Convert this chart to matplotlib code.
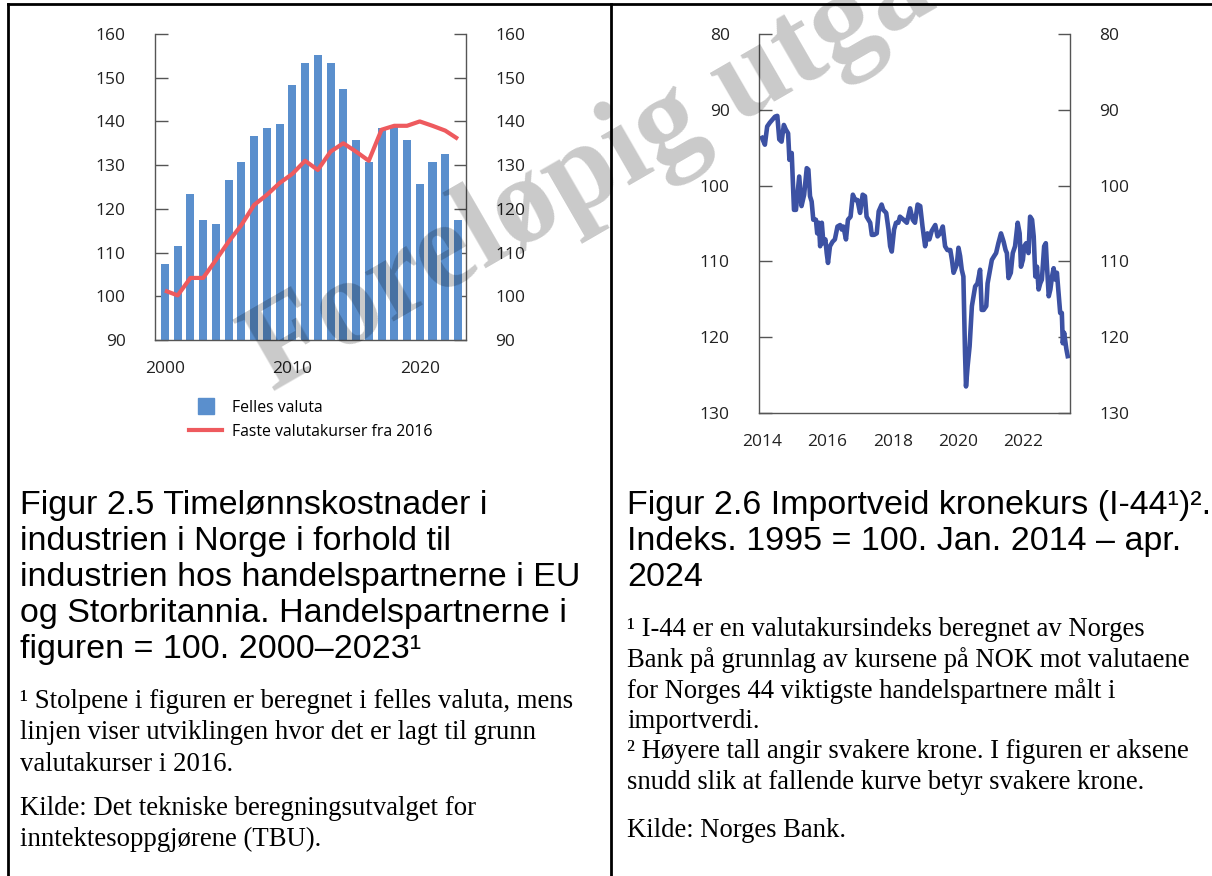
import matplotlib
matplotlib.use("Agg")
import matplotlib.pyplot as plt
from matplotlib.lines import Line2D

plt.rcParams['font.family'] = ['Open Sans', 'DejaVu Sans']

# Figur 2.5 - timelønnskostnader (felles valuta / faste valutakurser fra 2016)
years = list(range(2000, 2024))
felles_valuta = [107.4, 111.5, 123.4, 117.5, 116.6, 126.6, 130.8, 136.7, 138.5, 139.5,
                 148.4, 153.4, 155.3, 153.4, 147.5, 135.8, 130.8, 138.5, 138.9, 135.8,
                 125.7, 130.8, 132.6, 117.5]
faste_kurser = [101.3, 100.2, 104.2, 104.2, 108.3, 112.5, 116.3, 120.9, 123.2, 125.9,
                128.0, 131.0, 128.9, 133.1, 135.0, 133.1, 131.0, 138.1, 139.0, 139.0,
                140.0, 139.0, 137.9, 136.0]

# Figur 2.6 - importveid kronekurs I-44 (desimalår, indeks)
i44_dates = [2014.00, 2014.09, 2014.16, 2014.24, 2014.40, 2014.47, 2014.53, 2014.60, 2014.67, 2014.73,
             2014.80, 2014.84, 2014.91, 2014.98, 2015.04, 2015.14, 2015.21, 2015.29, 2015.37, 2015.42,
             2015.47, 2015.52, 2015.57, 2015.65, 2015.69, 2015.74, 2015.78, 2015.83, 2015.88, 2015.94,
             2015.98, 2016.02, 2016.08, 2016.16, 2016.23, 2016.31, 2016.39, 2016.44, 2016.49, 2016.57,
             2016.63, 2016.71, 2016.78, 2016.85, 2016.92, 2017.00, 2017.08, 2017.15, 2017.20, 2017.31,
             2017.36, 2017.43, 2017.51, 2017.57, 2017.66, 2017.71, 2017.80, 2017.87, 2017.92, 2017.97,
             2018.04, 2018.10, 2018.17, 2018.22, 2018.33, 2018.43, 2018.53, 2018.61, 2018.68, 2018.76,
             2018.84, 2018.91, 2018.99, 2019.06, 2019.12, 2019.19, 2019.30, 2019.37, 2019.45, 2019.53,
             2019.60, 2019.67, 2019.76, 2019.81, 2019.86, 2019.96, 2020.01, 2020.06, 2020.11, 2020.16,
             2020.21, 2020.24, 2020.29, 2020.35, 2020.42, 2020.47, 2020.52, 2020.59, 2020.67, 2020.72,
             2020.78, 2020.86, 2020.90, 2020.96, 2021.03, 2021.10, 2021.16, 2021.23, 2021.31, 2021.39,
             2021.45, 2021.49, 2021.54, 2021.61, 2021.67, 2021.74, 2021.82, 2021.88, 2021.92, 2021.98,
             2022.02, 2022.08, 2022.15, 2022.20, 2022.26, 2022.31, 2022.36, 2022.41, 2022.46, 2022.51,
             2022.56, 2022.63, 2022.68, 2022.71, 2022.77, 2022.82, 2022.87, 2022.92, 2022.97, 2023.02,
             2023.07, 2023.12, 2023.17, 2023.20, 2023.24, 2023.31, 2023.35]
i44_values = [93.7, 94.6, 92.2, 91.7, 90.9, 90.8, 93.9, 94.2, 92.0, 92.6,
              93.1, 96.6, 95.7, 103.2, 103.2, 98.8, 102.7, 101.2, 97.7, 97.9,
              101.4, 102.1, 104.5, 104.5, 106.3, 104.9, 108.0, 104.9, 107.6, 107.1,
              108.9, 110.2, 108.0, 107.4, 107.1, 105.4, 105.2, 105.8, 105.4, 107.1,
              104.5, 104.1, 101.2, 101.9, 101.9, 103.6, 101.2, 101.4, 104.1, 104.9,
              106.5, 106.5, 106.3, 103.4, 102.5, 103.2, 103.6, 105.8, 108.0, 108.7,
              105.8, 104.9, 104.9, 104.1, 104.5, 104.9, 103.0, 104.5, 104.9, 102.5,
              102.7, 105.4, 108.0, 106.3, 107.1, 106.0, 105.2, 106.7, 106.3, 105.4,
              108.0, 108.5, 108.5, 109.8, 111.5, 110.4, 108.2, 109.3, 111.1, 112.0,
              122.1, 126.5, 123.8, 121.2, 115.9, 114.6, 113.3, 112.9, 111.1, 116.4,
              116.4, 115.9, 112.9, 111.5, 109.8, 109.3, 108.9, 107.6, 106.3, 107.4,
              108.5, 108.9, 112.2, 111.5, 108.9, 108.0, 104.9, 106.3, 110.7, 109.8,
              108.0, 107.6, 108.9, 104.1, 104.5, 106.7, 112.0, 110.7, 113.7, 112.9,
              112.4, 108.0, 107.6, 110.2, 114.6, 113.7, 112.0, 110.9, 112.4, 111.5,
              114.2, 116.8, 116.8, 120.8, 119.4, 121.6, 122.5]

left_ticks = [90, 100, 110, 120, 130, 140, 150, 160]
left_xticks = [2000, 2010, 2020]
right_ticks = [80, 90, 100, 110, 120, 130]
right_xticks = [2014, 2016, 2018, 2020, 2022]

BLUE_BAR = '#5A8FCD'
RED = '#EE5A5E'
BLUE_LINE = '#3C51A3'
AXIS_GREY = '#555555'

W, H = 1212, 876
fig = plt.figure(figsize=(W / 100, H / 100), dpi=100)


def fx(x):
    return x / W


def fy(y):
    return 1 - y / H


def style_axes(ax):
    ax.spines['top'].set_visible(False)
    for s in ['left', 'right', 'bottom']:
        ax.spines[s].set_color(AXIS_GREY)
        ax.spines[s].set_linewidth(1)
    ax.tick_params(axis='y', direction='in', length=9, width=1, color=AXIS_GREY,
                   left=True, right=True, labelleft=True, labelright=True,
                   pad=21, labelsize=12.5, labelcolor='#222222')
    ax.tick_params(axis='x', length=0, pad=15, labelsize=12.5, labelcolor='#222222')


# venstre figur
ax1 = fig.add_axes([fx(155), fy(340), 311 / W, 306 / H])
ax1.bar(years, [v - 90 for v in felles_valuta], bottom=90, width=0.63, color=BLUE_BAR, zorder=2)
ax1.plot(years, faste_kurser, color=RED, lw=3, zorder=3, solid_capstyle='butt')
ax1.set_xlim(1999.22, 2023.63)
ax1.set_ylim(90, 160)
ax1.set_yticks(left_ticks)
ax1.set_xticks(left_xticks)
style_axes(ax1)

handles = [Line2D([], [], marker='s', ls='none', ms=11, color=BLUE_BAR),
           Line2D([], [], color=RED, lw=3)]
fig.legend(handles, ['Felles valuta', 'Faste valutakurser fra 2016'],
           loc='upper left', bbox_to_anchor=(fx(189), fy(400)), frameon=False,
           fontsize=11.4, handlelength=2.1, handletextpad=0.6, labelspacing=0.5,
           borderaxespad=0, borderpad=0)

# høyre figur
ax2 = fig.add_axes([fx(759), fy(413), 311 / W, 379 / H])
ax2.plot(i44_dates, i44_values, color=BLUE_LINE, lw=3.3, solid_joinstyle='round')
ax2.set_xlim(2013.91, 2023.42)
ax2.set_ylim(130, 80)
ax2.set_yticks(right_ticks)
ax2.set_xticks(right_xticks)
style_axes(ax2)

# rammer
for (x0, y0, x1, y1) in [(8, 4, W, 4), (8, 4, 8, H), (611, 4, 611, H)]:
    fig.add_artist(Line2D([fx(x0), fx(x1)], [fy(y0), fy(y1)], color='black', lw=2))

# titler
sans = 'Liberation Sans'
serif = 'Liberation Serif'
left_title = ['Figur 2.5 Timelønnskostnader i',
              'industrien i Norge i forhold til',
              'industrien hos handelspartnerne i EU',
              'og Storbritannia. Handelspartnerne i',
              'figuren = 100. 2000–2023¹']
for i, line in enumerate(left_title):
    fig.text(fx(20), fy(514 + i * 36), line, fontsize=24.5, family=sans, va='baseline')

right_title = ['Figur 2.6 Importveid kronekurs (I-44¹)².',
               'Indeks. 1995 = 100. Jan. 2014 – apr.',
               '2024']
for i, line in enumerate(right_title):
    fig.text(fx(627), fy(514 + i * 36), line, fontsize=24.5, family=sans, va='baseline')

# fotnoter
left_notes = [(708, '¹ Stolpene i figuren er beregnet i felles valuta, mens'),
              (739, 'linjen viser utviklingen hvor det er lagt til grunn'),
              (771, 'valutakurser i 2016.'),
              (815, 'Kilde: Det tekniske beregningsutvalget for'),
              (846, 'inntektesoppgjørene (TBU).')]
for y, line in left_notes:
    fig.text(fx(20), fy(y), line, fontsize=19.3, family=serif, va='baseline')

right_notes = [(636, '¹ I-44 er en valutakursindeks beregnet av Norges'),
               (667, 'Bank på grunnlag av kursene på NOK mot valutaene'),
               (698, 'for Norges 44 viktigste handelspartnere målt i'),
               (728, 'importverdi.'),
               (758, '² Høyere tall angir svakere krone. I figuren er aksene'),
               (789, 'snudd slik at fallende kurve betyr svakere krone.'),
               (837, 'Kilde: Norges Bank.')]
for y, line in right_notes:
    fig.text(fx(627), fy(y), line, fontsize=19.2, family=serif, va='baseline')

# vannmerke
fig.text(fx(272), fy(392), 'Foreløpig utgave', fontsize=89, family=serif,
         fontweight='bold', color='black', alpha=0.21, rotation=30,
         rotation_mode='anchor', ha='left', va='baseline', zorder=10)

fig.savefig('out.png', dpi=100)
